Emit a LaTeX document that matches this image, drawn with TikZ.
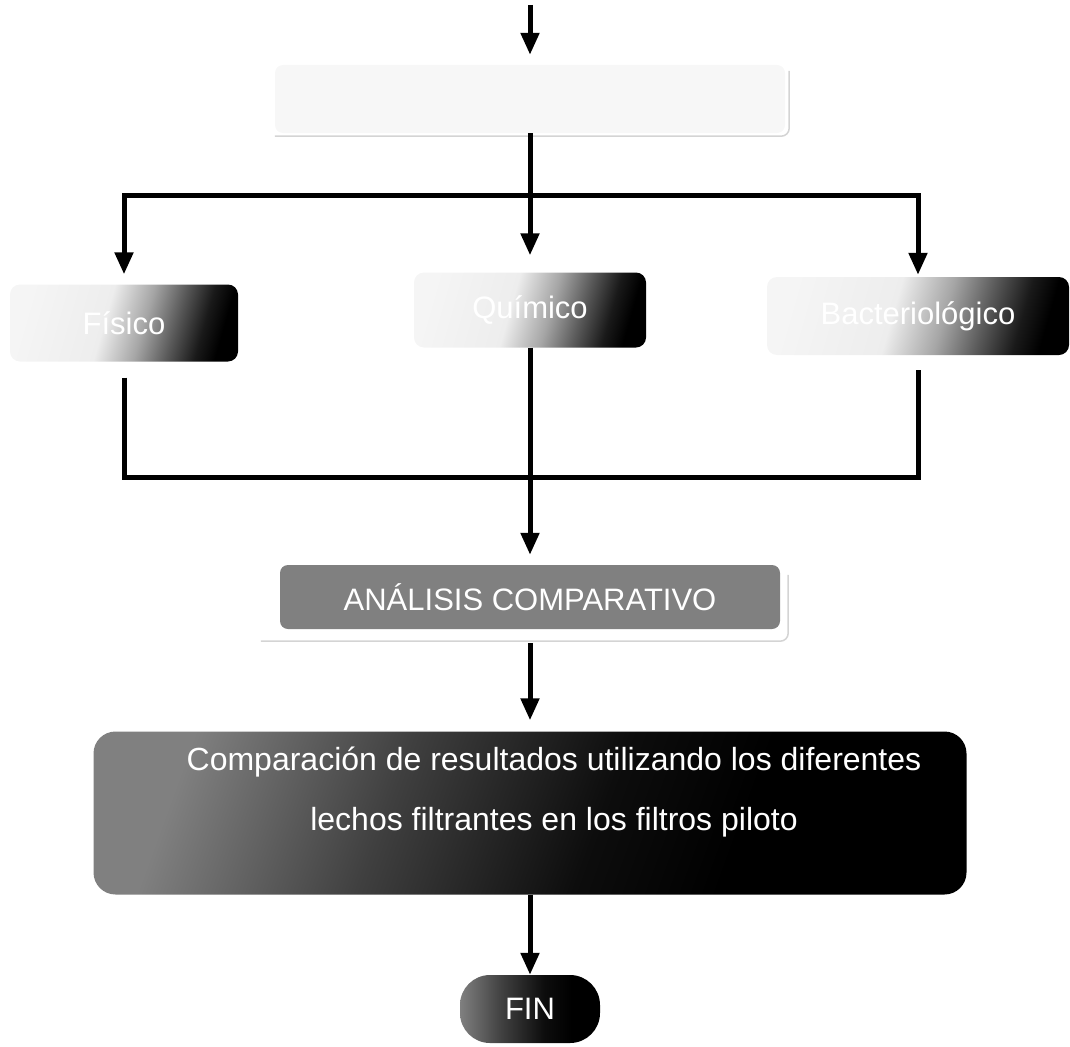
\documentclass[tikz,border=0pt]{standalone}
\usepackage{fontspec}
\setmainfont{Liberation Sans}
\usetikzlibrary{arrows.meta,calc}
\definecolor{gris}{HTML}{808080}
\definecolor{contorno}{HTML}{D4D4D4}
% near white to black, dark only on the right
\pgfdeclarehorizontalshading{desvanecido}{100bp}{color(0bp)=(black!4); color(25bp)=(black!4);
  color(45bp)=(black!7); color(55bp)=(black!35); color(63bp)=(black!65); color(70bp)=(black!90);
  color(75bp)=(black); color(100bp)=(black)}
% grey to black
\pgfdeclarehorizontalshading{oscuro}{100bp}{color(0bp)=(black!50); color(25bp)=(black!50);
  color(40bp)=(black!75); color(55bp)=(black!95); color(65bp)=(black); color(100bp)=(black)}

\begin{document}
\begin{tikzpicture}[x=1pt,y=-1pt,
  linea/.style={line width=5pt},
  flecha/.style={linea, -{Triangle[width=18pt,length=22pt]}},
  rotulo/.style={text=white, inner sep=0pt, font={\fontsize{31}{37}\selectfont}},
  caja/.style={rotulo, rounded corners=10pt, shade, shading=desvanecido, shading angle=-16},
  borde/.style={draw=contorno, line width=1.5pt, rounded corners=8pt}]
  \useasboundingbox (0,0) rectangle (1070,1046);

  % top box, almost white
  \node[minimum width=510pt, minimum height=68pt, rounded corners=8pt, fill=black!3] (entrada) at (530,99) {};
  \draw[borde] ([yshift=-3pt]entrada.south west) -| ([xshift=4pt,yshift=-6pt]entrada.north east);

  % the three tests
  \node[caja, minimum width=228pt, minimum height=77pt] (fisico) at (124,323) {Físico};
  \node[caja, minimum width=232pt, minimum height=75pt] (quimico) at (530,310) {Químico};
  \node[caja, minimum width=302pt, minimum height=78pt] (bacterio) at (918,316) {Bacteriológico};

  % comparison
  \node[rotulo, minimum width=500pt, minimum height=64pt, rounded corners=8pt, fill=gris] (analisis) at (530,597) {ANÁLISIS COMPARATIVO};
  \draw[borde] ([xshift=-19pt,yshift=-12pt]analisis.south west) -| ([xshift=8pt,yshift=-10pt]analisis.north east);

  \node[minimum width=873pt, minimum height=163pt, rounded corners=22pt, shade, shading=oscuro,
    shading angle=-20] (resultados) at (530,813) {};
  \node[rotulo, align=center, font={\fontsize{32}{60}\selectfont}] (textoresultados) at (554,792)
    {Comparación de resultados utilizando los diferentes\\lechos filtrantes en los filtros piloto};

  \node[rotulo, minimum width=140pt, minimum height=68pt, rounded corners=30pt, shade, shading=oscuro] (fin) at (530,1009) {FIN};

  % connectors
  \coordinate (inicio) at (530,5);
  \coordinate (reparto) at (530,195);
  \coordinate (union) at (530,477);
  \draw[flecha, shorten >=10pt] (inicio) -- (entrada.north);
  \draw[flecha, shorten >=17pt] (entrada.south) -- (quimico.north);
  \draw[flecha, shorten >=10pt] (reparto) -| (fisico.north);
  \draw[flecha, shorten >=2pt] (reparto) -| (bacterio.north);
  \draw[linea, shorten <=16pt] (fisico.south) |- (union);
  \draw[linea, shorten <=15pt] (bacterio.south) |- (union);
  \draw[flecha, shorten >=10pt] (quimico.south) -- (analisis.north);
  \draw[flecha, shorten <=14pt, shorten >=11pt] (analisis.south) -- (resultados.north);
  \draw[flecha] (resultados.south) -- (fin.north);
\end{tikzpicture}
\end{document}
